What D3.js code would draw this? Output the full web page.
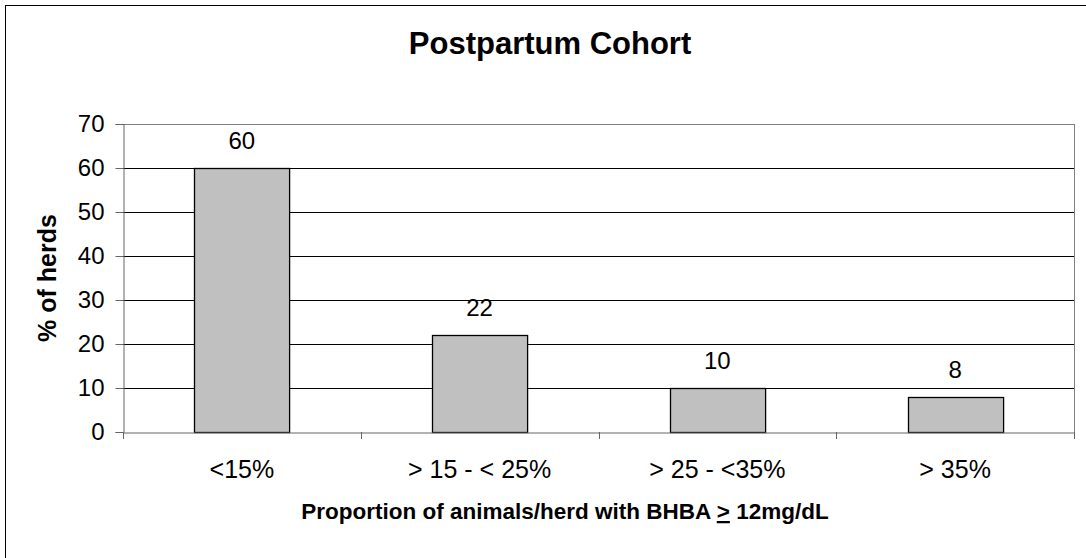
<!DOCTYPE html>
<html>
<head>
<meta charset="utf-8">
<script src="https://cdn.jsdelivr.net/npm/d3@7"></script>
<style>
  body { margin: 0; background: #fff; }
  text { font-family: "Liberation Sans", Arial, sans-serif; fill: #000; }
</style>
</head>
<body>
<div id="w"></div>
<script>
var categories = ["<15%", "> 15 - < 25%", "> 25 - <35%", "> 35%"]
var values = [60, 22, 10, 8]
var yTicks = [0, 10, 20, 30, 40, 50, 60, 70]

var W = 1086, H = 558
var m = {left: 123, right: 1074, top: 124, bottom: 432}

var svg = d3.select("#w").append("svg")
            .attr("width", W)
            .attr("height", H)

// outer chart border (runs off the right/bottom edge like the source)
svg.append("rect")
   .attr("x", 5.5).attr("y", 5.5)
   .attr("width", 1100).attr("height", 600)
   .attr("fill", "none").attr("stroke", "#000").attr("stroke-width", 1)

var x = d3.scaleBand().domain(categories).range([m.left, m.right]).paddingInner(0.6).paddingOuter(0.3)
var xb = d3.scaleBand().domain(categories).range([m.left, m.right])
var y = d3.scaleLinear().domain([0, 70]).range([m.bottom, m.top])

// gridlines
svg.append("g").selectAll("line")
   .data(yTicks.slice(1))
   .enter().append("line")
   .attr("x1", m.left).attr("x2", m.right)
   .attr("y1", d => Math.round(y(d)) + 0.5).attr("y2", d => Math.round(y(d)) + 0.5)
   .attr("stroke", d => d == 70 ? "#808080" : "#000")

// plot right border
svg.append("line")
   .attr("x1", m.right + 0.5).attr("x2", m.right + 0.5)
   .attr("y1", m.top).attr("y2", m.bottom)
   .attr("stroke", "#808080")

// bars
svg.append("g").selectAll("rect")
   .data(values)
   .enter().append("rect")
   .attr("x", (d, i) => Math.round(x(categories[i])) + 0.5)
   .attr("y", d => Math.round(y(d)) + 0.5)
   .attr("width", x.bandwidth())
   .attr("height", d => Math.round(y(0)) - Math.round(y(d)))
   .attr("fill", "#c0c0c0")
   .attr("stroke", "#000").attr("stroke-width", 1.3)

// value labels
svg.append("g").selectAll("text")
   .data(values)
   .enter().append("text")
   .attr("x", (d, i) => x(categories[i]) + x.bandwidth() / 2)
   .attr("y", d => y(d) - 19)
   .attr("text-anchor", "middle")
   .attr("font-size", 24)
   .text(d => d)

// y axis
var yAxis = svg.append("g")
   .attr("transform", "translate(" + (m.left + 0.5) + ",0)")
   .call(d3.axisLeft(y).tickValues(yTicks).tickSize(8).tickPadding(11))
yAxis.select(".domain").attr("stroke", "#666")
yAxis.selectAll(".tick line").attr("stroke", "#666")
yAxis.selectAll("text").attr("font-size", 24).attr("font-family", "Liberation Sans, Arial, sans-serif").attr("fill", "#000")

// x axis
var xAxis = svg.append("g")
   .attr("transform", "translate(0," + (m.bottom + 0.5) + ")")
   .call(d3.axisBottom(xb).tickSize(0).tickPadding(28))
xAxis.select(".domain").attr("stroke", "#666")
xAxis.selectAll("text").attr("font-size", 25).attr("font-family", "Liberation Sans, Arial, sans-serif").attr("fill", "#000")
// x tick marks at category boundaries
svg.append("g").selectAll("line")
   .data(categories.concat(["end"]))
   .enter().append("line")
   .attr("x1", (d, i) => Math.round(i < categories.length ? xb(d) : m.right) + 0.5)
   .attr("x2", (d, i) => Math.round(i < categories.length ? xb(d) : m.right) + 0.5)
   .attr("y1", m.bottom).attr("y2", m.bottom + 7)
   .attr("stroke", "#666")

// title
svg.append("text")
   .attr("x", 550).attr("y", 54)
   .attr("text-anchor", "middle")
   .attr("font-size", 31).attr("font-weight", "bold")
   .text("Postpartum Cohort")

// y title
svg.append("text")
   .attr("transform", "translate(56,278) rotate(-90)")
   .attr("text-anchor", "middle")
   .attr("font-size", 25).attr("font-weight", "bold")
   .text("% of herds")

// x title
var xt = svg.append("text")
   .attr("x", 565).attr("y", 519)
   .attr("text-anchor", "middle")
   .attr("font-size", 22.5).attr("font-weight", "bold")
xt.append("tspan").text("Proportion of animals/herd with BHBA ")
xt.append("tspan").style("text-decoration", "underline").text(">")
xt.append("tspan").text(" 12mg/dL")
</script>
</body>
</html>
